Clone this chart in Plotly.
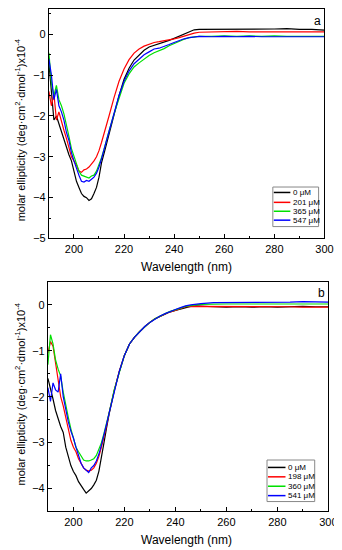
import plotly.graph_objects as go

# wavelengths (nm)
wl = list(range(190, 215)) + list(range(216, 251, 2)) + list(range(255, 301, 5))

# panel a
labels_a = ["0 μM", "201 μM", "365 μM", "547 μM"]
a0 = [-0.7, -1.5, -2.1, -2.0, -2.2, -2.4, -2.55, -2.75, -2.95, -3.1, -3.35, -3.6, -3.75, -3.9, -3.97, -4.0, -4.07, -4.03, -3.9, -3.75, -3.5, -3.15, -2.92, -2.68, -2.45,
      -1.97, -1.5, -1.1, -0.83, -0.63, -0.5, -0.39, -0.31, -0.27, -0.23, -0.2, -0.15, -0.1, -0.05, 0.0, 0.06, 0.11, 0.12,
      0.12, 0.13, 0.12, 0.13, 0.12, 0.13, 0.14, 0.12, 0.12, 0.1]
a1 = [-1.4, -1.75, -1.45, -2.1, -1.9, -2.15, -2.35, -2.55, -2.8, -3.0, -3.1, -3.2, -3.35, -3.38, -3.32, -3.3, -3.25, -3.18, -3.1, -3.0, -2.85, -2.65, -2.45, -2.22, -2.0,
      -1.55, -1.15, -0.85, -0.62, -0.46, -0.36, -0.29, -0.24, -0.2, -0.18, -0.16, -0.14, -0.11, -0.08, -0.04, 0.0, 0.03, 0.05,
      0.06, 0.06, 0.07, 0.06, 0.06, 0.07, 0.06, 0.06, 0.07, 0.06]
a2 = [-0.45, -1.2, -1.5, -1.25, -1.6, -1.75, -1.95, -2.2, -2.5, -2.8, -3.0, -3.2, -3.35, -3.45, -3.48, -3.5, -3.52, -3.47, -3.45, -3.35, -3.2, -3.02, -2.82, -2.58, -2.37,
      -1.95, -1.55, -1.2, -0.97, -0.8, -0.7, -0.6, -0.52, -0.45, -0.4, -0.35, -0.28, -0.22, -0.17, -0.12, -0.08, -0.06, -0.05,
      -0.05, -0.04, -0.05, -0.04, -0.05, -0.04, -0.05, -0.05, -0.04, -0.05]
a3 = [-0.6, -1.0, -1.6, -1.35, -1.75, -1.9, -2.1, -2.4, -2.6, -2.9, -3.1, -3.3, -3.45, -3.6, -3.62, -3.58, -3.6, -3.55, -3.5, -3.4, -3.25, -3.05, -2.85, -2.6, -2.38,
      -1.92, -1.5, -1.15, -0.9, -0.72, -0.6, -0.5, -0.43, -0.36, -0.34, -0.3, -0.25, -0.2, -0.15, -0.11, -0.08, -0.06, -0.05,
      -0.06, -0.05, -0.06, -0.05, -0.06, -0.06, -0.05, -0.06, -0.06, -0.06]

# panel b
labels_b = ["0 μM", "198 μM", "360 μM", "541 μM"]
b0 = [-1.6, -1.8, -2.05, -2.3, -2.5, -2.65, -2.78, -3.1, -3.3, -3.5, -3.63, -3.72, -3.85, -3.95, -4.02, -4.1, -4.05, -4.0, -3.92, -3.82, -3.62, -3.35, -3.0, -2.68, -2.38,
      -1.88, -1.45, -1.1, -0.85, -0.7, -0.58, -0.47, -0.38, -0.3, -0.25, -0.2, -0.15, -0.12, -0.09, -0.05, -0.03, -0.02, -0.03,
      -0.04, -0.05, -0.04, -0.05, -0.04, -0.05, -0.04, -0.03, -0.04, -0.04]
b1 = [-1.05, -0.8, -0.9, -1.3, -1.6, -2.0, -2.2, -2.45, -2.7, -2.95, -3.1, -3.2, -3.35, -3.45, -3.55, -3.6, -3.62, -3.6, -3.55, -3.45, -3.3, -3.1, -2.88, -2.63, -2.36,
      -1.86, -1.45, -1.1, -0.85, -0.7, -0.58, -0.47, -0.38, -0.3, -0.25, -0.2, -0.15, -0.12, -0.08, -0.04, -0.03, -0.03, -0.03,
      -0.03, -0.03, -0.04, -0.03, -0.04, -0.04, -0.04, -0.05, -0.05, -0.05]
b2 = [-1.3, -0.65, -0.85, -1.2, -1.4, -1.55, -1.9, -2.2, -2.45, -2.7, -2.9, -3.1, -3.2, -3.3, -3.38, -3.4, -3.4, -3.38, -3.35, -3.28, -3.15, -3.0, -2.8, -2.58, -2.35,
      -1.85, -1.45, -1.1, -0.85, -0.7, -0.58, -0.47, -0.38, -0.3, -0.24, -0.19, -0.14, -0.11, -0.07, -0.03, -0.01, 0.0, 0.01,
      0.02, 0.02, 0.02, 0.02, 0.02, 0.02, 0.02, 0.02, 0.02, 0.02]
b3 = [-1.8, -2.1, -1.7, -1.85, -1.9, -1.5, -2.0, -2.3, -2.55, -2.75, -2.9, -3.1, -3.3, -3.45, -3.55, -3.6, -3.65, -3.55, -3.5, -3.4, -3.25, -3.05, -2.85, -2.6, -2.36,
      -1.87, -1.45, -1.1, -0.85, -0.7, -0.58, -0.47, -0.38, -0.3, -0.24, -0.19, -0.14, -0.1, -0.06, -0.02, 0.0, 0.02, 0.03,
      0.05, 0.05, 0.06, 0.05, 0.06, 0.05, 0.06, 0.07, 0.06, 0.06]

colors = ["#000000", "#ff0000", "#00e000", "#0000ff"]

FONT = "Liberation Sans, Arial, sans-serif"
W, H = 342, 550
fig = go.Figure()
for ys, name, c in zip([a0, a1, a2, a3], labels_a, colors):
    fig.add_trace(go.Scatter(x=wl, y=ys, name=name, mode="lines", line=dict(color=c, width=1.2),
                             xaxis="x", yaxis="y", showlegend=False))
for ys, name, c in zip([b0, b1, b2, b3], labels_b, colors):
    fig.add_trace(go.Scatter(x=wl, y=ys, name=name, mode="lines", line=dict(color=c, width=1.2),
                             xaxis="x2", yaxis="y2", showlegend=False))

axis_common = dict(showline=True, linecolor="black", linewidth=1, mirror=True, ticks="inside",
                   ticklen=4, tickcolor="black", showgrid=False, zeroline=False,
                   tickfont=dict(size=11, family=FONT, color="black"))
fig.update_layout(
    width=W, height=H, margin=dict(l=0, r=0, t=0, b=0),
    paper_bgcolor="white", plot_bgcolor="white",
    font=dict(family=FONT, color="black"),
    showlegend=False,
    xaxis=dict(domain=[42 / W, 325 / W], range=[190, 300], dtick=20, anchor="y",
               minor=dict(ticks="inside", ticklen=2, dtick=10, tickcolor="black"), **axis_common),
    yaxis=dict(domain=[1 - 233 / H, 1 - 1 / H], range=[-5, 0.62], dtick=1, anchor="x",
               minor=dict(ticks="inside", ticklen=2, dtick=0.5, tickcolor="black"), **axis_common),
    xaxis2=dict(domain=[41 / W, 329 / W], range=[190, 300], dtick=20, anchor="y2",
                minor=dict(ticks="inside", ticklen=2, dtick=10, tickcolor="black"), **axis_common),
    yaxis2=dict(domain=[1 - 509 / H, 1 - 277 / H], range=[-4.5, 0.5], dtick=1, anchor="x2",
                minor=dict(ticks="inside", ticklen=2, dtick=0.5, tickcolor="black"), **axis_common),
)

ytitle = "molar ellipticity (deg·cm<sup>2</sup>·dmol<sup>-1</sup>)x10<sup>-4</sup>"
annots = [
    dict(text=ytitle, x=12 / W, y=1 - 123 / H, textangle=-90, font=dict(size=11)),
    dict(text=ytitle, x=12 / W, y=1 - 390 / H, textangle=-90, font=dict(size=11)),
    dict(text="Wavelength (nm)", x=183 / W, y=1 - 262 / H, font=dict(size=12)),
    dict(text="Wavelength (nm)", x=183 / W, y=1 - 538 / H, font=dict(size=12)),
    dict(text="a", x=318 / W, y=1 - 13 / H, font=dict(size=12)),
    dict(text="b", x=322 / W, y=1 - 288 / H, font=dict(size=12)),
]
for a in annots:
    fig.add_annotation(xref="paper", yref="paper", showarrow=False, xanchor="center", yanchor="middle",
                       font_family=FONT, font_color="black", **a)


# compact legends drawn as legend boxes (pixel layout -> paper coords)
def add_legend(box, rows, sample, text_x, labels):
    x0, y0, x1, y1 = box
    fig.add_shape(type="rect", xref="paper", yref="paper", x0=x0 / W, x1=x1 / W,
                  y0=1 - y1 / H, y1=1 - y0 / H, line=dict(color="#888888", width=1),
                  fillcolor="white", layer="above")
    for ry, lab, c in zip(rows, labels, colors):
        fig.add_shape(type="line", xref="paper", yref="paper", x0=sample[0] / W, x1=sample[1] / W,
                      y0=1 - ry / H, y1=1 - ry / H, line=dict(color=c, width=1.5), layer="above")
        fig.add_annotation(xref="paper", yref="paper", x=text_x / W, y=1 - ry / H, text=lab,
                           showarrow=False, xanchor="left", yanchor="middle",
                           font=dict(size=8, family=FONT, color="black"))


add_legend((272, 181, 319, 221), [186.5, 196.5, 205.5, 214.5], (273, 290), 291, labels_a)
add_legend((266, 457, 315, 499), [464.5, 474, 483.5, 493], (267, 285), 286, labels_b)

fig.write_html("out.html")
